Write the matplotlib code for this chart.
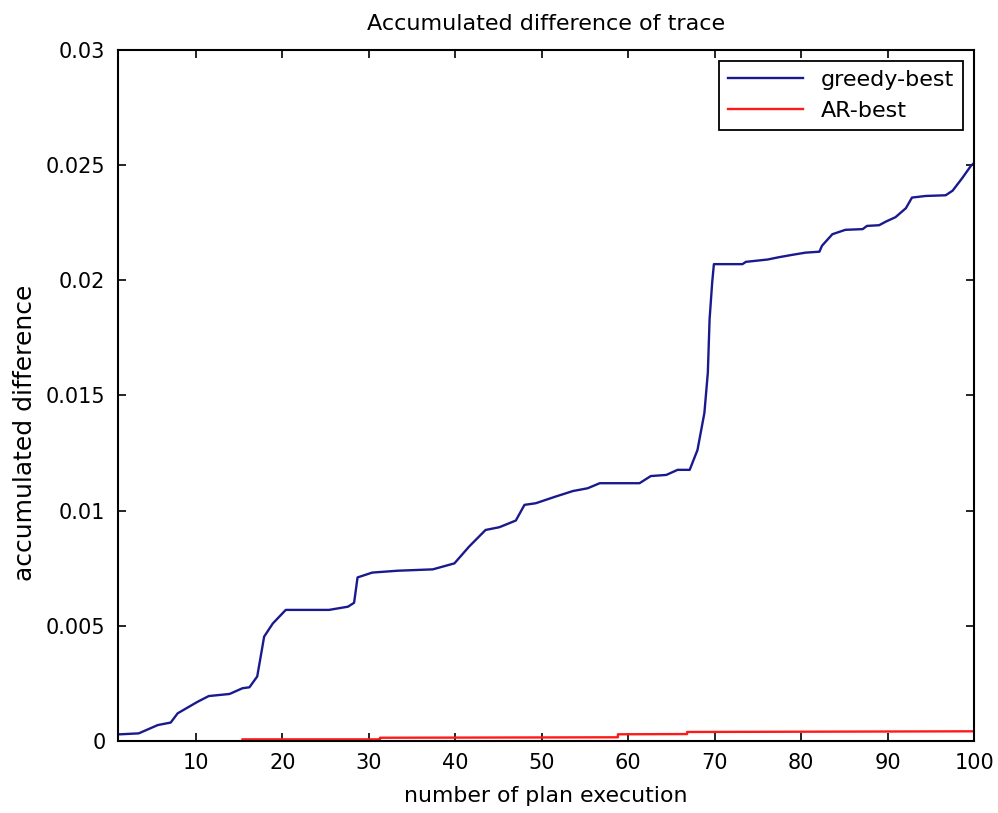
import matplotlib
matplotlib.use("Agg")
import matplotlib.pyplot as plt

# greedy-best curve
greedy_x = [1, 1.3, 3.4, 5.6, 7.1, 7.9, 10.2, 11.5, 13.9, 15.4, 16.2, 17.1, 17.5,
            17.9, 18.9, 20.4, 25.4, 27.6, 28.3, 28.7, 30.4, 33.3, 37.4, 39.9, 41.6,
            43.5, 45.1, 47.0, 48.0, 49.3, 51.6, 53.6, 55.3, 56.7, 61.3, 62.6, 64.4,
            65.7, 67.1, 68.0, 68.8, 69.2, 69.4, 69.7, 69.9, 73.2, 73.6, 76.1, 77.4,
            78.9, 80.5, 82.1, 82.4, 83.6, 85.1, 87.1, 87.6, 89.0, 89.8, 90.9, 92.1,
            92.8, 94.4, 96.7, 97.5, 98.6, 99.6, 100]
greedy_y = [0.00029, 0.00029, 0.00033, 0.00069, 0.00080, 0.00120, 0.00170, 0.00195,
            0.00204, 0.00229, 0.00233, 0.00280, 0.00366, 0.00453, 0.00510, 0.00569,
            0.00569, 0.00583, 0.00600, 0.00710, 0.00731, 0.00739, 0.00745, 0.00771,
            0.00844, 0.00916, 0.00928, 0.00957, 0.01025, 0.01032, 0.01061, 0.01085,
            0.01097, 0.01119, 0.01119, 0.01150, 0.01155, 0.01177, 0.01177, 0.01263,
            0.01424, 0.01600, 0.01830, 0.01990, 0.02070, 0.02070, 0.02080, 0.02090,
            0.02100, 0.02110, 0.02120, 0.02124, 0.02150, 0.02200, 0.02219, 0.02222,
            0.02236, 0.02239, 0.02255, 0.02274, 0.02313, 0.02359, 0.02366, 0.02369,
            0.02389, 0.02443, 0.02496, 0.02510]

# AR-best curve
ar_x = [15.4, 31.3, 31.3, 58.8, 58.8, 66.8, 66.8, 100]
ar_y = [0.00007, 0.00007, 0.00014, 0.00016, 0.00029, 0.00030, 0.00039, 0.00042]

x_ticks = [10, 20, 30, 40, 50, 60, 70, 80, 90, 100]
y_ticks = [0, 0.005, 0.01, 0.015, 0.02, 0.025, 0.03]
y_tick_labels = ["0", "0.005", "0.01", "0.015", "0.02", "0.025", "0.03"]

plt.rcParams['font.family'] = ['DejaVu Sans']

fig = plt.figure(figsize=(9.98, 8.13), dpi=100)
ax = fig.add_axes([0.1182, 0.0886, 0.858, 0.85])

ax.plot(greedy_x, greedy_y, color='#1a1a8e', linewidth=1.7, label='greedy-best')
ax.plot(ar_x, ar_y, color='#ff1a1a', linewidth=1.7, label='AR-best')

ax.set_xlim(1, 100)
ax.set_ylim(0, 0.03)
ax.set_xticks(x_ticks)
ax.set_yticks(y_ticks)
ax.set_yticklabels(y_tick_labels)
ax.tick_params(direction='in', top=True, right=True, length=6, width=1.2,
               labelsize=15, pad=9)
for s in ax.spines.values():
    s.set_linewidth(1.5)

ax.set_title('Accumulated difference of trace', fontsize=16, pad=14)
ax.set_xlabel('number of plan execution', fontsize=15.8, labelpad=9)
ax.set_ylabel('accumulated difference', fontsize=18)
ax.yaxis.set_label_coords(-0.094, 0.446)

leg = ax.legend(loc='upper right', fontsize=16, fancybox=False, edgecolor='black',
                framealpha=1, handlelength=3.4, borderaxespad=0.5,
                labelspacing=0.5)
leg.get_frame().set_linewidth(1.3)

fig.savefig('out.png', dpi=100)
